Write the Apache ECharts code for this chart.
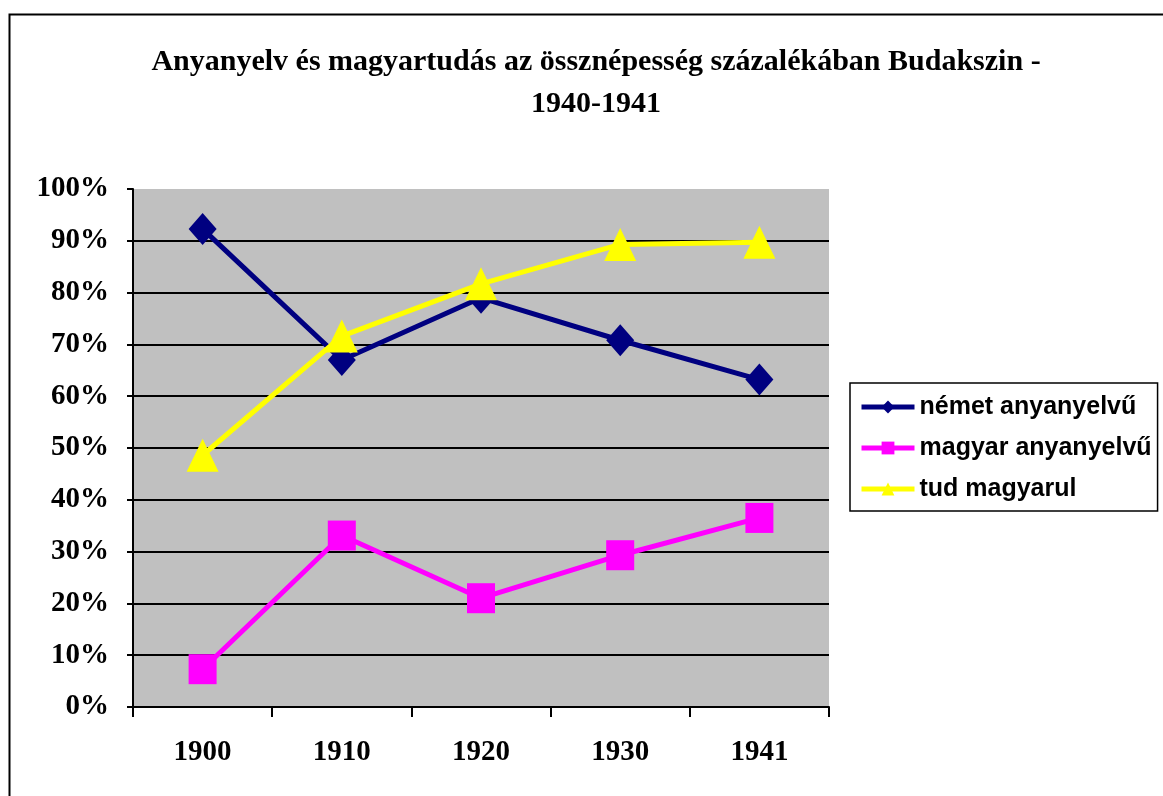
<!DOCTYPE html>
<html><head><meta charset="utf-8">
<script src="https://cdn.jsdelivr.net/npm/echarts@6/dist/echarts.min.js"></script>
<style>html,body{margin:0;padding:0;background:#fff}#c{width:1163px;height:796px}</style>
</head><body><div id="c"></div>
<script>
const categories = ['1900','1910','1920','1930','1941'];
const nemet = [92.3, 67.0, 79.0, 70.8, 63.2];
const magyar = [7.3, 33.1, 21.0, 29.3, 36.5];
const tud = [48.6, 71.6, 81.7, 89.3, 89.7];
const seriesNames = ['német anyanyelvű','magyar anyanyelvű','tud magyarul'];
const titleText = 'Anyanyelv és magyartudás az össznépesség százalékában Budakszin -\n1940-1941';

const chart = echarts.init(document.getElementById('c'), null, {renderer:'canvas'});
const serif = '"Liberation Serif","Times New Roman",serif';
const sans = '"Liberation Sans",Arial,sans-serif';
chart.setOption({
  animation:false,
  backgroundColor:'#fff',
  graphic:[{type:'rect',left:7,top:12,shape:{width:1170,height:810},style:{fill:'none',stroke:'#000',lineWidth:2},silent:true,z:-1}],
  title:{text:titleText,left:591,top:36,textAlign:'center',
    textStyle:{fontFamily:serif,fontWeight:'bold',fontSize:30,lineHeight:42,color:'#000'}},
  legend:{orient:'vertical',left:850,top:383,data:seriesNames,
    borderColor:'#000',borderWidth:1.5,padding:[11,6,9,9],
    itemWidth:53,itemHeight:16,itemGap:15,
    lineStyle:{width:5},
    textStyle:{fontFamily:sans,fontWeight:'bold',fontSize:25,lineHeight:26,color:'#000'}},
  grid:{left:133,top:189,right:334,bottom:89,show:true,backgroundColor:'#c0c0c0',borderWidth:0},
  xAxis:{type:'category',data:categories,boundaryGap:true,
    axisLine:{lineStyle:{color:'#000',width:2}},
    axisTick:{show:true,length:10,lineStyle:{color:'#000',width:2}},
    axisLabel:{margin:31,fontFamily:serif,fontWeight:'bold',fontSize:29,color:'#000'}},
  yAxis:{type:'value',min:0,max:100,interval:10,
    axisLine:{show:true,lineStyle:{color:'#000',width:2}},
    axisTick:{show:true,length:6,lineStyle:{color:'#000',width:2}},
    splitLine:{show:true,showMaxLine:false,lineStyle:{color:'#000',width:2}},
    axisLabel:{margin:24,formatter:'{value}%',fontFamily:serif,fontWeight:'bold',fontSize:29,color:'#000'}},
  series:[
    {name:seriesNames[0],type:'line',data:nemet,symbol:'diamond',symbolSize:[28,32],
      lineStyle:{color:'#000080',width:5},itemStyle:{color:'#000080'},z:3},
    {name:seriesNames[1],type:'line',data:magyar,symbol:'rect',symbolSize:[28,30],
      lineStyle:{color:'#ff00ff',width:5},itemStyle:{color:'#ff00ff'},z:4},
    {name:seriesNames[2],type:'line',data:tud,symbol:'triangle',symbolSize:[32,33],
      lineStyle:{color:'#ffff00',width:5},itemStyle:{color:'#ffff00'},z:5}
  ]
});
</script></body></html>
